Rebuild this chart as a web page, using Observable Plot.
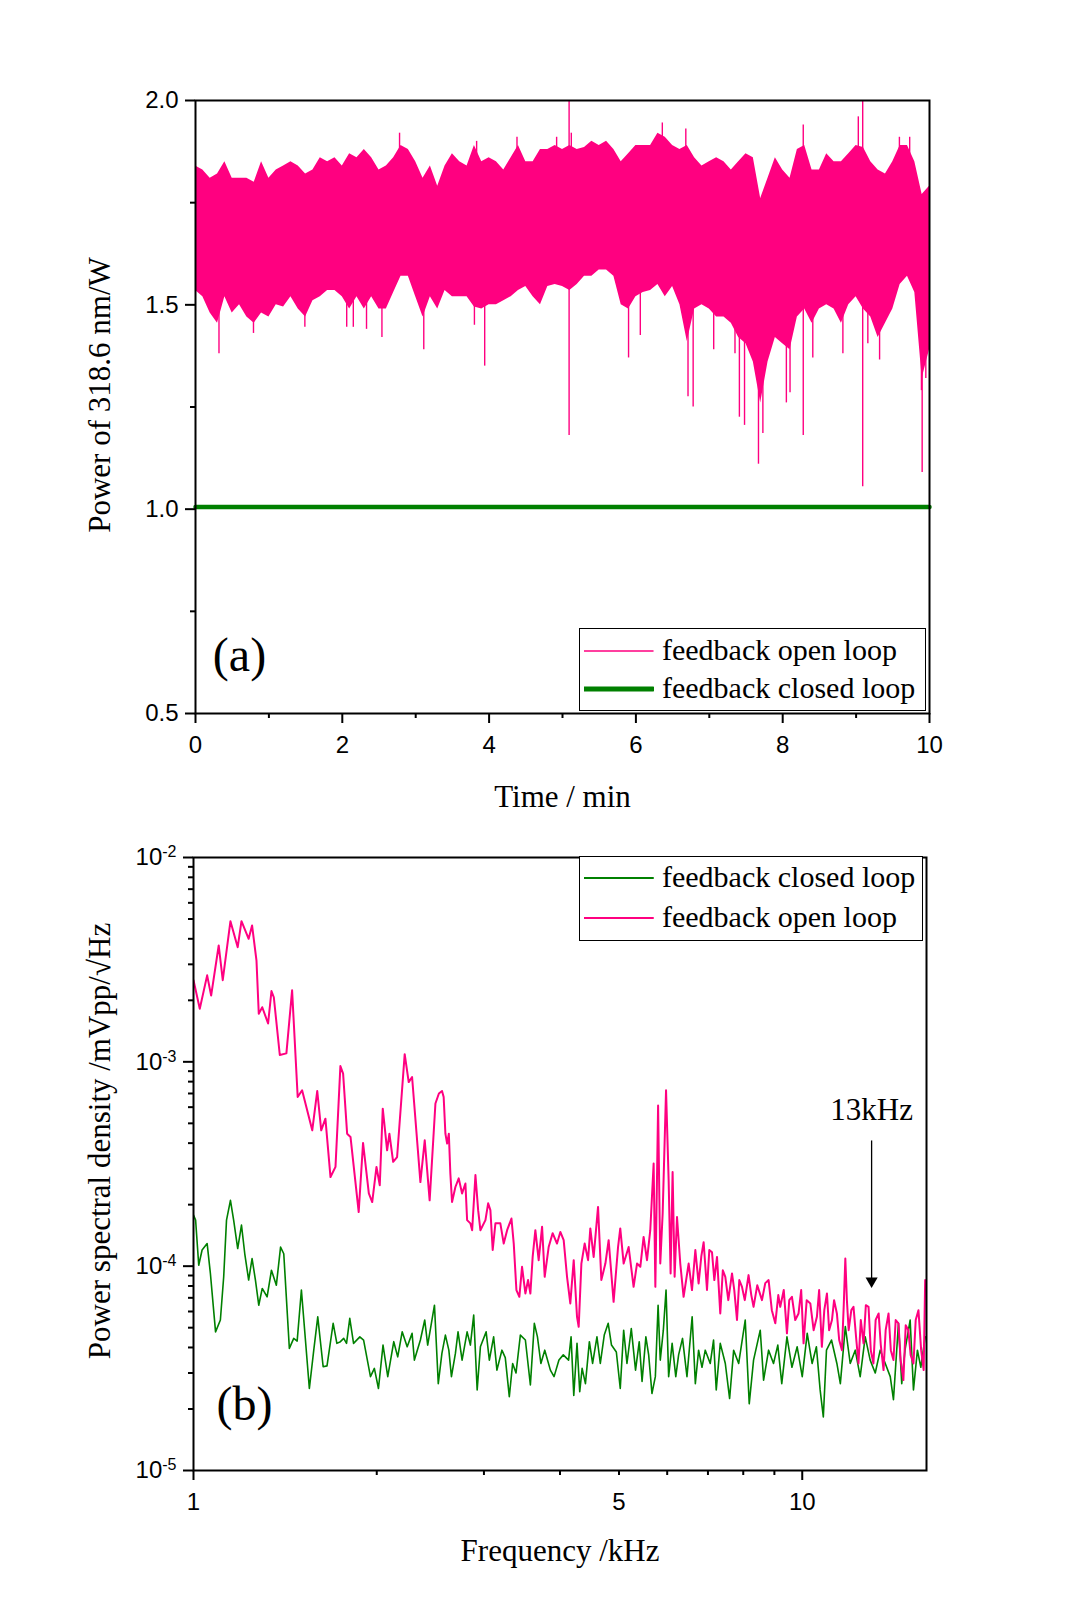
<!DOCTYPE html>
<html><head><meta charset="utf-8">
<script src="https://cdn.jsdelivr.net/npm/d3@7"></script>
<script src="https://cdn.jsdelivr.net/npm/@observablehq/plot@0.6"></script>
<style>
body{margin:0;background:#fff;}
#chart{position:relative;width:1084px;height:1619px;background:#fff;overflow:hidden}
.panel{position:absolute;left:0}
.legend{position:absolute;border:1.5px solid #000;background:#fff;box-sizing:border-box}
.lg-text{position:absolute;font-family:"Liberation Serif","Times New Roman",serif;font-size:30px;line-height:30px;white-space:nowrap;color:#000}
.lg-line{position:absolute}
</style></head><body><div id="chart"></div>
<script>
const PINK = "#ff0080", GREEN = "#008000";
const SERIF = "Liberation Serif, Times New Roman, serif";
const SANS = "Liberation Sans, Arial, sans-serif";

// ---------- Panel (a): power vs time ----------
const timeMin = [0,0.1,0.2,0.3,0.4,0.5,0.6,0.7,0.8,0.9,1,1.1,1.2,1.3,1.4,1.5,1.6,1.7,1.8,1.9,2,2.1,2.2,2.3,2.4,2.5,2.6,2.7,2.8,2.9,3,3.1,3.2,3.3,3.4,3.5,3.6,3.7,3.8,3.9,4,4.1,4.2,4.3,4.4,4.5,4.6,4.7,4.8,4.9,5,5.1,5.2,5.3,5.4,5.5,5.6,5.7,5.8,5.9,6,6.1,6.2,6.3,6.4,6.5,6.6,6.7,6.8,6.9,7,7.1,7.2,7.3,7.4,7.5,7.6,7.7,7.8,7.9,8,8.1,8.2,8.3,8.4,8.5,8.6,8.7,8.8,8.9,9,9.1,9.2,9.3,9.4,9.5,9.6,9.7,9.8,9.9,10];
const openMax = [1.84,1.83,1.81,1.82,1.85,1.81,1.81,1.81,1.80,1.85,
  1.81,1.83,1.84,1.85,1.84,1.82,1.83,1.86,1.85,1.86,
  1.84,1.87,1.86,1.88,1.86,1.83,1.84,1.86,1.89,1.88,
  1.85,1.81,1.84,1.79,1.84,1.87,1.85,1.84,1.89,1.85,
  1.86,1.85,1.83,1.86,1.89,1.85,1.85,1.88,1.88,1.89,
  1.88,1.89,1.88,1.885,1.90,1.89,1.90,1.88,1.85,1.87,
  1.89,1.89,1.89,1.92,1.91,1.89,1.88,1.89,1.86,1.84,
  1.85,1.86,1.85,1.83,1.85,1.87,1.86,1.76,1.81,1.86,
  1.83,1.81,1.88,1.89,1.83,1.83,1.87,1.85,1.85,1.87,
  1.89,1.885,1.85,1.83,1.82,1.85,1.89,1.89,1.85,1.77,1.79];
const openMin = [1.535,1.52,1.48,1.455,1.52,1.48,1.50,1.47,1.455,1.48,
  1.47,1.50,1.495,1.52,1.49,1.47,1.51,1.52,1.535,1.535,
  1.52,1.49,1.52,1.49,1.52,1.49,1.49,1.53,1.57,1.57,
  1.52,1.47,1.52,1.49,1.535,1.52,1.52,1.52,1.495,1.49,
  1.50,1.50,1.51,1.52,1.535,1.545,1.52,1.50,1.545,1.55,
  1.545,1.535,1.55,1.57,1.57,1.585,1.585,1.57,1.50,1.49,
  1.52,1.53,1.535,1.55,1.52,1.545,1.50,1.41,1.49,1.50,
  1.49,1.47,1.47,1.455,1.42,1.405,1.36,1.26,1.36,1.42,
  1.405,1.39,1.47,1.49,1.455,1.49,1.50,1.49,1.455,1.50,
  1.52,1.49,1.47,1.42,1.455,1.49,1.55,1.57,1.53,1.32,1.39];
// isolated spikes of the open-loop trace
const spikeTime  = [0.32,0.79,1.49,2.06,2.15,2.33,2.54,3.11,3.80,3.94,5.09,5.90,6.06,6.71,6.78,7.06,7.35,7.41,7.48,7.67,7.73,8.05,8.10,8.28,8.41,8.82,9.09,9.16,9.32,9.89,9.90,9.95,
  2.78,3.83,4.38,4.92,5.09,5.12,6.36,6.68,8.28,9.03,9.09,9.59,9.73];
const spikeValue = [1.38,1.43,1.445,1.445,1.445,1.44,1.42,1.39,1.45,1.35,1.18,1.37,1.425,1.275,1.25,1.39,1.38,1.225,1.205,1.11,1.185,1.26,1.285,1.18,1.37,1.38,1.055,1.405,1.365,1.29,1.09,1.32,
  1.92,1.90,1.91,1.91,2.0,1.92,1.945,1.93,1.94,1.96,2.0,1.91,1.91];
const closedTime = [0, 10];
const closedPower = [1.005, 1.005];

const xTicksA = [0,2,4,6,8,10], xMinorA = [1,3,5,7,9];
const yTicksA = [0.5,1.0,1.5,2.0], yMinorA = [0.75,1.25,1.75];

// ---------- Panel (b): power spectral density ----------
const freqOpen = [1.000,1.024,1.053,1.069,1.100,1.117,1.150,1.182,1.199,1.232,1.248,1.269,1.280,1.297,1.326,1.343,1.355,1.386,1.421,1.452,
  1.483,1.508,1.567,1.597,1.621,1.647,1.679,1.711,1.743,1.761,1.788,1.811,1.868,1.899,1.941,1.966,1.998,2.023,2.046,2.080,
  2.098,2.128,2.160,2.223,2.257,2.286,2.359,2.398,2.443,2.497,2.530,2.560,2.576,2.593,2.610,2.627,2.642,2.659,2.693,2.727,
  2.762,2.797,2.815,2.850,2.869,2.905,2.935,2.960,3.017,3.048,3.074,3.101,3.133,3.192,3.233,3.275,3.329,3.358,3.392,3.430,
  3.465,3.509,3.545,3.576,3.607,3.644,3.690,3.738,3.775,3.832,3.890,3.955,4.005,4.056,4.108,4.159,4.213,4.266,4.293,4.337,
  4.391,4.448,4.486,4.543,4.619,4.677,4.749,4.808,4.899,4.982,5.024,5.089,5.186,5.284,5.353,5.420,5.488,5.559,5.628,5.700,
  5.737,5.797,5.845,5.898,5.974,6.033,6.078,6.124,6.171,6.227,6.304,6.384,6.507,6.590,6.674,6.757,6.827,6.887,6.975,7.036,
  7.108,7.171,7.244,7.334,7.405,7.475,7.560,7.667,7.733,7.813,7.881,7.962,8.046,8.162,8.247,8.318,8.436,8.587,8.695,8.805,
  8.913,9.031,9.134,9.202,9.325,9.438,9.521,9.618,9.739,9.861,9.960,10.05,10.17,10.31,10.44,10.57,10.66,10.77,10.87,10.98,
  11.07,11.19,11.28,11.40,11.50,11.62,11.70,11.77,11.84,11.92,12.04,12.14,12.27,12.37,12.48,12.61,12.72,12.85,12.96,13.09,
  13.20,13.35,13.46,13.60,13.71,13.86,13.98,14.12,14.24,14.39,14.51,14.66,14.79,14.94,15.07,15.23,15.36,15.52,15.68,15.83,15.92];
const psdOpen = [2.51e-3,1.82e-3,2.65e-3,2.11e-3,3.71e-3,2.51e-3,4.88e-3,3.64e-3,4.88e-3,4.00e-3,4.65e-3,3.13e-3,1.72e-3,1.85e-3,1.54e-3,2.22e-3,2.07e-3,1.08e-3,1.10e-3,2.24e-3,
  6.73e-4,7.26e-4,4.62e-4,7.20e-4,4.62e-4,5.27e-4,2.73e-4,3.06e-4,9.53e-4,8.76e-4,4.45e-4,4.29e-4,1.84e-4,4.01e-4,2.27e-4,2.06e-4,3.06e-4,2.49e-4,5.90e-4,3.69e-4,
  4.45e-4,3.24e-4,3.42e-4,1.09e-3,7.96e-4,8.43e-4,2.58e-4,4.13e-4,2.10e-4,6.25e-4,7.00e-4,7.20e-4,6.73e-4,4.45e-4,3.98e-4,4.45e-4,2.84e-4,2.06e-4,2.44e-4,2.69e-4,
  2.27e-4,2.54e-4,1.68e-4,1.62e-4,1.50e-4,2.79e-4,1.88e-4,1.50e-4,1.68e-4,2.03e-4,1.88e-4,1.20e-4,1.62e-4,1.62e-4,1.29e-4,1.50e-4,1.71e-4,1.29e-4,7.64e-5,7.08e-5,
  9.93e-5,7.35e-5,8.55e-5,7.35e-5,1.11e-4,1.50e-4,1.07e-4,1.56e-4,8.87e-5,1.24e-4,1.45e-4,1.29e-4,1.47e-4,1.34e-4,8.87e-5,6.57e-5,1.07e-4,5.65e-5,5.05e-5,1.03e-4,
  1.29e-4,1.07e-4,1.53e-4,1.11e-4,1.95e-4,8.55e-5,1.03e-4,1.34e-4,6.69e-5,1.24e-4,1.53e-4,1.03e-4,1.24e-4,7.92e-5,1.03e-4,9.93e-5,1.39e-4,1.07e-4,1.50e-4,3.18e-4,
  7.92e-5,6.12e-4,1.03e-4,1.81e-4,7.26e-4,2.63e-4,9.21e-5,2.89e-4,8.87e-5,1.74e-4,1.03e-4,7.08e-5,1.03e-4,7.64e-5,1.20e-4,8.23e-5,1.12e-4,1.31e-4,7.64e-5,1.20e-4,
  1.17e-4,8.55e-5,1.11e-4,5.87e-5,9.55e-5,8.87e-5,6.82e-5,9.21e-5,7.64e-5,5.45e-5,8.55e-5,7.92e-5,6.82e-5,9.04e-5,7.22e-5,6.32e-5,8.07e-5,6.82e-5,8.26e-5,8.55e-5,
  6.09e-5,5.25e-5,7.22e-5,6.32e-5,7.64e-5,4.69e-5,6.82e-5,7.08e-5,5.45e-5,5.87e-5,7.64e-5,4.19e-5,6.82e-5,6.57e-5,4.86e-5,5.65e-5,7.64e-5,4.03e-5,6.09e-5,7.35e-5,
  4.86e-5,5.45e-5,6.82e-5,5.87e-5,4.35e-5,3.88e-5,6.44e-5,1.09e-4,6.82e-5,4.86e-5,6.09e-5,6.32e-5,4.35e-5,3.34e-5,5.45e-5,4.19e-5,6.44e-5,6.32e-5,3.88e-5,3.34e-5,
  5.45e-5,5.87e-5,4.11e-5,3.10e-5,4.86e-5,5.87e-5,3.88e-5,3.47e-5,5.45e-5,5.25e-5,3.47e-5,2.77e-5,5.14e-5,4.86e-5,3.67e-5,3.34e-5,5.45e-5,6.09e-5,3.88e-5,3.10e-5,8.55e-5];

const freqClosed = [1.000,1.008,1.020,1.033,1.053,1.066,1.087,1.107,1.121,1.133,1.150,1.164,1.182,1.199,1.214,1.232,1.248,1.264,1.280,1.297,
  1.321,1.343,1.368,1.390,1.407,1.437,1.461,1.480,1.504,1.550,1.576,1.600,1.633,1.657,1.696,1.720,1.743,1.765,1.784,1.806,
  1.832,1.876,1.903,1.953,1.982,2.013,2.048,2.085,2.133,2.165,2.202,2.244,2.286,2.306,2.359,2.398,2.425,2.488,2.524,2.559,
  2.593,2.627,2.653,2.693,2.720,2.762,2.815,2.850,2.886,2.924,2.960,3.025,3.062,3.112,3.151,3.211,3.252,3.302,3.344,3.387,
  3.443,3.509,3.576,3.630,3.673,3.721,3.776,3.857,3.911,3.984,4.050,4.132,4.171,4.214,4.266,4.310,4.349,4.404,4.470,4.525,
  4.600,4.659,4.729,4.800,4.860,4.950,5.024,5.089,5.153,5.238,5.323,5.398,5.456,5.535,5.594,5.664,5.737,5.797,5.845,5.913,
  5.974,6.033,6.113,6.198,6.265,6.358,6.466,6.594,6.674,6.757,6.844,6.929,7.061,7.150,7.223,7.334,7.475,7.598,7.715,7.863,
  8.060,8.183,8.318,8.531,8.640,8.805,8.970,9.117,9.255,9.438,9.618,9.810,10.00,10.19,10.38,10.55,10.70,10.83,10.96,11.17,
  11.40,11.55,11.77,11.99,12.22,12.45,12.69,12.93,13.18,13.43,13.69,13.95,14.12,14.39,14.57,14.75,15.04,15.23,15.46,15.66,15.92];
const psdClosed = [1.78e-4,1.68e-4,1.01e-4,1.20e-4,1.29e-4,9.21e-5,4.77e-5,5.45e-5,8.87e-5,1.68e-4,2.10e-4,1.68e-4,1.22e-4,1.59e-4,1.15e-4,8.55e-5,1.09e-4,8.55e-5,6.44e-5,7.78e-5,
  7.08e-5,9.55e-5,8.07e-5,1.24e-4,1.15e-4,3.96e-5,4.43e-5,4.30e-5,7.64e-5,2.52e-5,3.88e-5,5.65e-5,3.22e-5,3.25e-5,5.25e-5,4.19e-5,4.27e-5,4.43e-5,4.19e-5,5.55e-5,
  4.19e-5,4.51e-5,4.35e-5,2.88e-5,3.16e-5,2.52e-5,4.11e-5,2.88e-5,4.27e-5,3.60e-5,4.77e-5,4.03e-5,4.69e-5,3.47e-5,4.35e-5,5.45e-5,4.11e-5,6.44e-5,2.66e-5,3.74e-5,
  4.60e-5,3.88e-5,2.88e-5,3.74e-5,4.77e-5,3.47e-5,4.77e-5,4.11e-5,5.76e-5,2.48e-5,4.03e-5,4.77e-5,3.47e-5,4.51e-5,3.10e-5,3.88e-5,3.57e-5,2.30e-5,3.34e-5,3.00e-5,
  4.60e-5,4.35e-5,2.62e-5,5.25e-5,4.51e-5,3.34e-5,3.88e-5,3.10e-5,2.88e-5,3.47e-5,3.68e-5,3.47e-5,4.51e-5,2.33e-5,4.19e-5,2.43e-5,3.16e-5,2.66e-5,4.27e-5,3.34e-5,
  4.51e-5,3.34e-5,4.60e-5,5.25e-5,4.11e-5,3.80e-5,2.52e-5,4.86e-5,3.34e-5,4.95e-5,3.10e-5,4.27e-5,2.73e-5,4.51e-5,3.68e-5,2.38e-5,2.88e-5,6.44e-5,3.47e-5,4.86e-5,
  7.64e-5,2.88e-5,4.19e-5,2.88e-5,3.68e-5,4.43e-5,2.88e-5,5.65e-5,2.66e-5,3.88e-5,3.20e-5,3.88e-5,3.34e-5,4.35e-5,2.48e-5,4.19e-5,3.34e-5,2.25e-5,3.88e-5,3.34e-5,
  5.45e-5,2.12e-5,3.47e-5,4.86e-5,2.77e-5,3.88e-5,3.34e-5,4.11e-5,2.66e-5,4.51e-5,3.20e-5,4.03e-5,2.88e-5,4.69e-5,3.34e-5,4.03e-5,2.48e-5,1.83e-5,3.88e-5,4.35e-5,
  3.34e-5,2.66e-5,5.06e-5,3.34e-5,3.88e-5,2.88e-5,4.51e-5,3.47e-5,3.00e-5,3.88e-5,3.34e-5,2.88e-5,2.22e-5,5.25e-5,2.66e-5,3.88e-5,5.45e-5,2.48e-5,3.88e-5,3.20e-5,4.51e-5];

const xTicksB = [1,5,10], xMajorB = [1,10], xMinorB = [2,3,4,5,6,7,8,9];
const yTicksB = [1e-5,1e-4,1e-3,1e-2];
const yMinorB = [2e-5,3e-5,4e-5,5e-5,6e-5,7e-5,8e-5,9e-5,2e-4,3e-4,4e-4,5e-4,6e-4,7e-4,8e-4,9e-4,2e-3,3e-3,4e-3,5e-3,6e-3,7e-3,8e-3,9e-3];

const noteFreq = [13], noteText = ["13kHz"], noteTextPsd = [5.8e-4], noteArrowTop = [4.1e-4], noteArrowTip = [8.45e-5];

const legendLabelsA = ["feedback open loop", "feedback closed loop"];
const legendLabelsB = ["feedback closed loop", "feedback open loop"];

// ---------- build tables ----------
const bins = timeMin.map((t, i) => ({t, hi: openMax[i], lo: openMin[i]}));
const spikes = spikeTime.map((t, i) => ({t, v: spikeValue[i]}));
const closed = closedTime.map((t, i) => ({t, p: closedPower[i]}));
const openPSD = freqOpen.map((f, i) => ({f, v: psdOpen[i]}));
const closedPSD = freqClosed.map((f, i) => ({f, v: psdClosed[i]}));
const notes = noteFreq.map((f, i) => ({f, text: noteText[i], ty: noteTextPsd[i], top: noteArrowTop[i], tip: noteArrowTip[i]}));

const chart = document.getElementById("chart");
const tickStyle = {strokeWidth: 2, fontSize: 24, fontFamily: SANS, label: null};
const titleStyle = {fontFamily: SERIF, fontSize: 31, textAnchor: "middle", lineAnchor: "middle"};

const plotA = Plot.plot({
  width: 1084, height: 820,
  marginTop: 100, marginBottom: 107, marginLeft: 195, marginRight: 155,
  style: {background: "transparent", color: "#000", fontFamily: SANS},
  x: {domain: [0, 10]},
  y: {domain: [0.5, 2.0]},
  marks: [
    Plot.areaY(bins, {x: "t", y1: "lo", y2: "hi", fill: PINK}),
    Plot.ruleX(spikes, {x: "t", y1: 1.7, y2: "v", stroke: PINK, strokeWidth: 1.4}),
    Plot.line(closed, {x: "t", y: "p", stroke: GREEN, strokeWidth: 4.5}),
    Plot.frame({stroke: "#000", strokeWidth: 2}),
    Plot.axisX({...tickStyle, ticks: xTicksA, tickSize: 10, tickPadding: 12, tickFormat: d => String(d)}),
    Plot.axisX({...tickStyle, ticks: xMinorA, tickSize: 5, tickFormat: () => ""}),
    Plot.axisY({...tickStyle, ticks: yTicksA, tickSize: 10, tickPadding: 7, tickFormat: d => d.toFixed(1)}),
    Plot.axisY({...tickStyle, ticks: yMinorA, tickSize: 5, tickFormat: () => ""}),
    Plot.text(["Time / min"], {...titleStyle, text: d => d, frameAnchor: "bottom", dy: 84}),
    Plot.text(["Power of 318.6 nm/W"], {...titleStyle, text: d => d, frameAnchor: "left", rotate: -90, dx: -95, dy: -12}),
    Plot.text(["(a)"], {...titleStyle, text: d => d, frameAnchor: "bottom-left", dx: 44, dy: -58, fontSize: 48})
  ]
});
plotA.classList.add("panel");
plotA.style.top = "0px";
chart.appendChild(plotA);

const plotB = Plot.plot({
  width: 1084, height: 799,
  marginTop: 37, marginBottom: 149, marginLeft: 193, marginRight: 158,
  style: {background: "transparent", color: "#000", fontFamily: SANS},
  x: {type: "log", domain: [1, 16]},
  y: {type: "log", domain: [1e-5, 1e-2]},
  marks: [
    Plot.line(closedPSD, {x: "f", y: "v", stroke: GREEN, strokeWidth: 1.6, clip: true}),
    Plot.line(openPSD, {x: "f", y: "v", stroke: PINK, strokeWidth: 2, clip: true}),
    Plot.ruleX(notes, {x: "f", y1: "top", y2: "tip", stroke: "#000", strokeWidth: 1.3}),
    Plot.dot(notes, {x: "f", y: "tip", symbol: "triangle", rotate: 180, r: 4.5, fill: "#000", stroke: "none"}),
    Plot.text(notes, {x: "f", y: "ty", text: "text", fontFamily: SERIF, fontSize: 31}),
    Plot.frame({stroke: "#000", strokeWidth: 2}),
    Plot.axisX({...tickStyle, ticks: xTicksB, tickSize: 0, tickPadding: 22, tickFormat: d => String(d)}),
    Plot.axisX({...tickStyle, ticks: xMajorB, tickSize: 10, tickFormat: () => ""}),
    Plot.axisX({...tickStyle, ticks: xMinorB, tickSize: 5, tickFormat: () => ""}),
    Plot.axisY({...tickStyle, ticks: yTicksB, tickSize: 10, tickPadding: 7, tickFormat: d => "10^" + Math.round(Math.log10(d))}),
    Plot.axisY({...tickStyle, ticks: yMinorB, tickSize: 5, tickFormat: () => ""}),
    Plot.text(["Frequency /kHz"], {...titleStyle, text: d => d, frameAnchor: "bottom", dy: 81}),
    Plot.text(["Power spectral density /mVpp/\u221AHz"], {...titleStyle, text: d => d, frameAnchor: "left", rotate: -90, dx: -93, dy: -23}),
    Plot.text(["(b)"], {...titleStyle, text: d => d, frameAnchor: "bottom-left", dx: 51, dy: -66, fontSize: 48})
  ]
});
plotB.classList.add("panel");
plotB.style.top = "820px";
chart.appendChild(plotB);

// superscript exponents on log tick labels
const NS = "http://www.w3.org/2000/svg";
plotB.querySelectorAll("text").forEach(t => {
  const m = t.textContent.match(/^10\^(-?\d+)$/);
  if (!m) return;
  t.textContent = "";
  const base = document.createElementNS(NS, "tspan");
  base.textContent = "10";
  const sup = document.createElementNS(NS, "tspan");
  sup.textContent = m[1];
  sup.setAttribute("dy", "-0.5em");
  sup.setAttribute("font-size", "16");
  t.appendChild(base); t.appendChild(sup);
});

// ---------- legends ----------
function legend(box, labels, colors, widths, rows) {
  const div = document.createElement("div");
  div.className = "legend";
  Object.assign(div.style, {left: box.left + "px", top: box.top + "px", width: box.width + "px", height: box.height + "px"});
  chart.appendChild(div);
  labels.forEach((lab, i) => {
    const y = rows[i];
    const svg = document.createElementNS(NS, "svg");
    svg.setAttribute("class", "lg-line");
    svg.setAttribute("width", 70); svg.setAttribute("height", 12);
    svg.style.left = "584px"; svg.style.top = (y - 6) + "px";
    const ln = document.createElementNS(NS, "line");
    ln.setAttribute("x1", 0); ln.setAttribute("x2", 69); ln.setAttribute("y1", 6); ln.setAttribute("y2", 6);
    ln.setAttribute("stroke", colors[i]); ln.setAttribute("stroke-width", widths[i]);
    ln.setAttribute("stroke-linecap", "round");
    svg.appendChild(ln);
    chart.appendChild(svg);
    const tx = document.createElement("div");
    tx.className = "lg-text";
    tx.textContent = lab;
    tx.style.left = "662px"; tx.style.top = (y - 16) + "px";
    chart.appendChild(tx);
  });
}
legend({left: 579, top: 628, width: 347, height: 83}, legendLabelsA, [PINK, GREEN], [1.5, 5], [651, 689]);
legend({left: 579, top: 856, width: 344, height: 85}, legendLabelsB, [GREEN, PINK], [2, 2], [878, 918]);
</script></body></html>
